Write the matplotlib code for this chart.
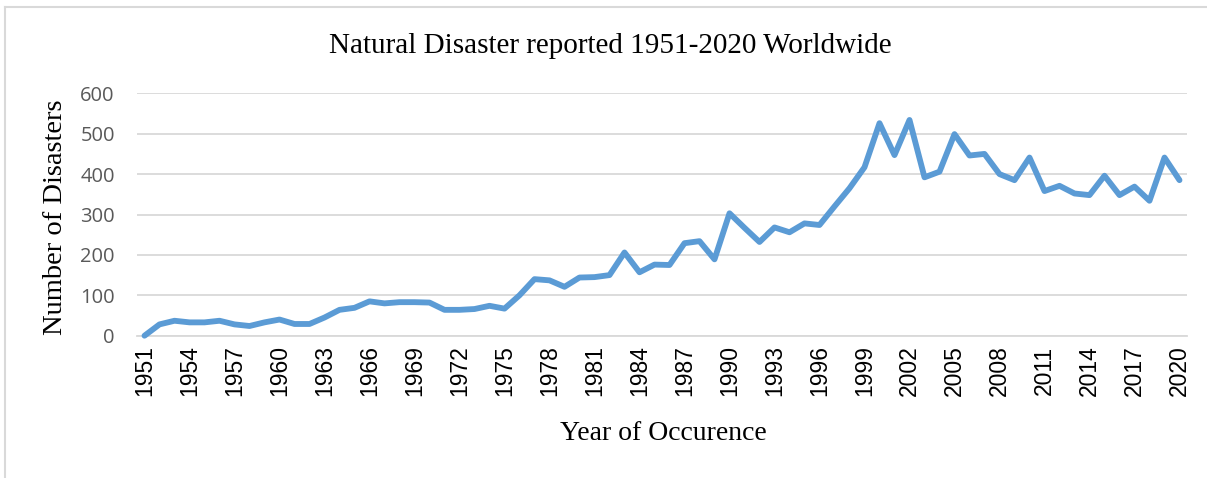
import matplotlib
matplotlib.use("Agg")
import matplotlib.pyplot as plt
from matplotlib.lines import Line2D

years = list(range(1951, 2021))
disasters = [
    0, 28, 37, 33, 33, 37, 28, 24, 33, 40,
    29, 29, 45, 64, 69, 85, 80, 83, 83, 82,
    64, 64, 66, 74, 67, 100, 140, 137, 121, 144,
    145, 150, 206, 157, 176, 175, 229, 234, 189, 303,
    267, 232, 268, 256, 278, 274, 320, 365, 417, 526,
    447, 534, 392, 406, 499, 446, 450, 400, 385, 441,
    358, 371, 352, 348, 396, 348, 369, 334, 441, 385,
]
tick_years = years[::3]

serif = "Liberation Serif"

fig = plt.figure(figsize=(12.07, 4.78), dpi=100)
ax = fig.add_axes([137 / 1207, 1 - 335.7 / 478, 1050 / 1207, 242.4 / 478])

idx = list(range(len(years)))
ax.plot(idx, disasters, color="#5B9BD5", linewidth=4.2, solid_joinstyle="round",
        solid_capstyle="round", zorder=3, clip_on=False)

ax.set_xlim(-0.5, len(years) - 0.5)
ax.set_ylim(0, 600)
ax.set_yticks(range(0, 601, 100))
ax.set_xticks([years.index(y) for y in tick_years])
ax.set_xticklabels([str(y) for y in tick_years], rotation=90,
                   fontfamily="Liberation Sans", fontsize=16.5, color="black")
for lab in ax.get_yticklabels():
    lab.set_fontfamily("Open Sans")
ax.tick_params(axis="y", length=0, pad=16, labelsize=14.5, labelcolor="#595959")
ax.tick_params(axis="x", length=0, pad=7)

ax.grid(axis="y", color="#d9d9d9", linewidth=1.3)
ax.set_axisbelow(True)
for side in ["top", "right", "left"]:
    ax.spines[side].set_visible(False)
ax.spines["bottom"].set_color("#d9d9d9")
ax.spines["bottom"].set_linewidth(1.3)

fig.text(610 / 1207, 1 - 46 / 478, "Natural Disaster reported 1951-2020 Worldwide",
         ha="center", va="center", fontfamily=serif, fontsize=21)
fig.text(663 / 1207, 1 - 433 / 478, "Year of Occurence",
         ha="center", va="center", fontfamily=serif, fontsize=20)
fig.text(55 / 1207, 1 - 217 / 478, "Number of Disasters", rotation=90,
         ha="center", va="center", fontfamily=serif, fontsize=20.5)

# chart frame on the top and left
fig.add_artist(Line2D([5 / 1207, 1], [1 - 6.5 / 478, 1 - 6.5 / 478],
                      color="#d9d9d9", linewidth=1.5))
fig.add_artist(Line2D([5 / 1207, 5 / 1207], [0, 1 - 6.5 / 478],
                      color="#d9d9d9", linewidth=1.5))

fig.savefig("out.png", dpi=100)
